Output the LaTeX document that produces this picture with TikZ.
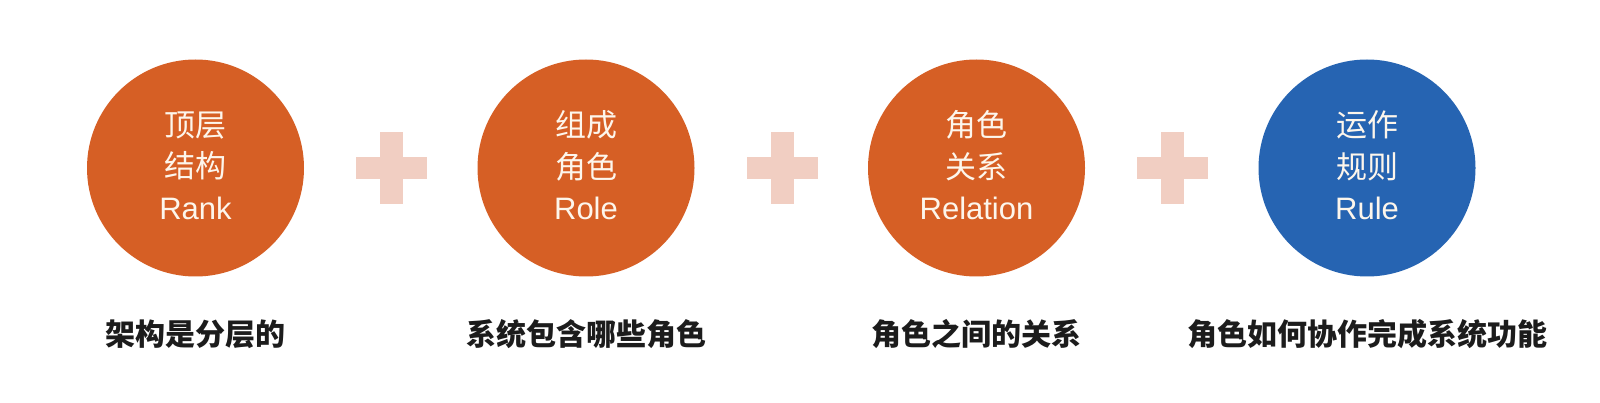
\documentclass[tikz,border=0pt]{standalone}
\usepackage{fontspec}
\setmainfont{Liberation Sans}
\newfontfamily\cjk{Noto Sans CJK SC}
\definecolor{orng}{RGB}{214,95,37}
\definecolor{blu}{RGB}{38,100,178}
\definecolor{pluscol}{RGB}{241,206,194}
\definecolor{cream}{RGB}{253,246,236}
\definecolor{lbl}{RGB}{28,28,28}
\tikzset{
  ball/.style={circle, minimum size=217pt, inner sep=0pt, fill=orng},
  blueball/.style={ball, fill=blu},
  balltext/.style={inner sep=0pt, text=cream, align=center, yshift=2.5pt,
    font=\fontsize{31}{41.5}\selectfont},
  caption/.style={inner sep=0pt, text=lbl, font=\cjk\bfseries\fontsize{30}{34}\selectfont},
  plusbar/.style={fill=pluscol},
}
\begin{document}
\begin{tikzpicture}[x=1pt,y=-1pt]
\useasboundingbox[fill=white] (0,0) rectangle (1600,403);
\node[ball, label={[balltext]center:{\cjk 顶层}\\{\cjk 结构}\\Rank}] (c1) at (195.5,168) {};
\node[ball, label={[balltext]center:{\cjk 组成}\\{\cjk 角色}\\Role}] (c2) at (586,168) {};
\node[ball, label={[balltext]center:{\cjk 角色}\\{\cjk 关系}\\Relation}] (c3) at (976.5,168) {};
\node[blueball, label={[balltext]center:{\cjk 运作}\\{\cjk 规则}\\Rule}] (c4) at (1367,168) {};
\foreach \n/\x in {p1/391.5, p2/782, p3/1172.5}{
  \coordinate (\n) at (\x,168);
  \fill[plusbar] ([shift={(-35.5,-11)}]\n) rectangle ([shift={(35.5,11)}]\n);
  \fill[plusbar] ([shift={(-11.5,-36)}]\n) rectangle ([shift={(11.5,36)}]\n);
}
\node[caption] (l1) at (195.5,334) {架构是分层的};
\node[caption] (l2) at (586,334) {系统包含哪些角色};
\node[caption] (l3) at (976.5,334) {角色之间的关系};
\node[caption] (l4) at (1367,334) {角色如何协作完成系统功能};
\end{tikzpicture}
\end{document}
